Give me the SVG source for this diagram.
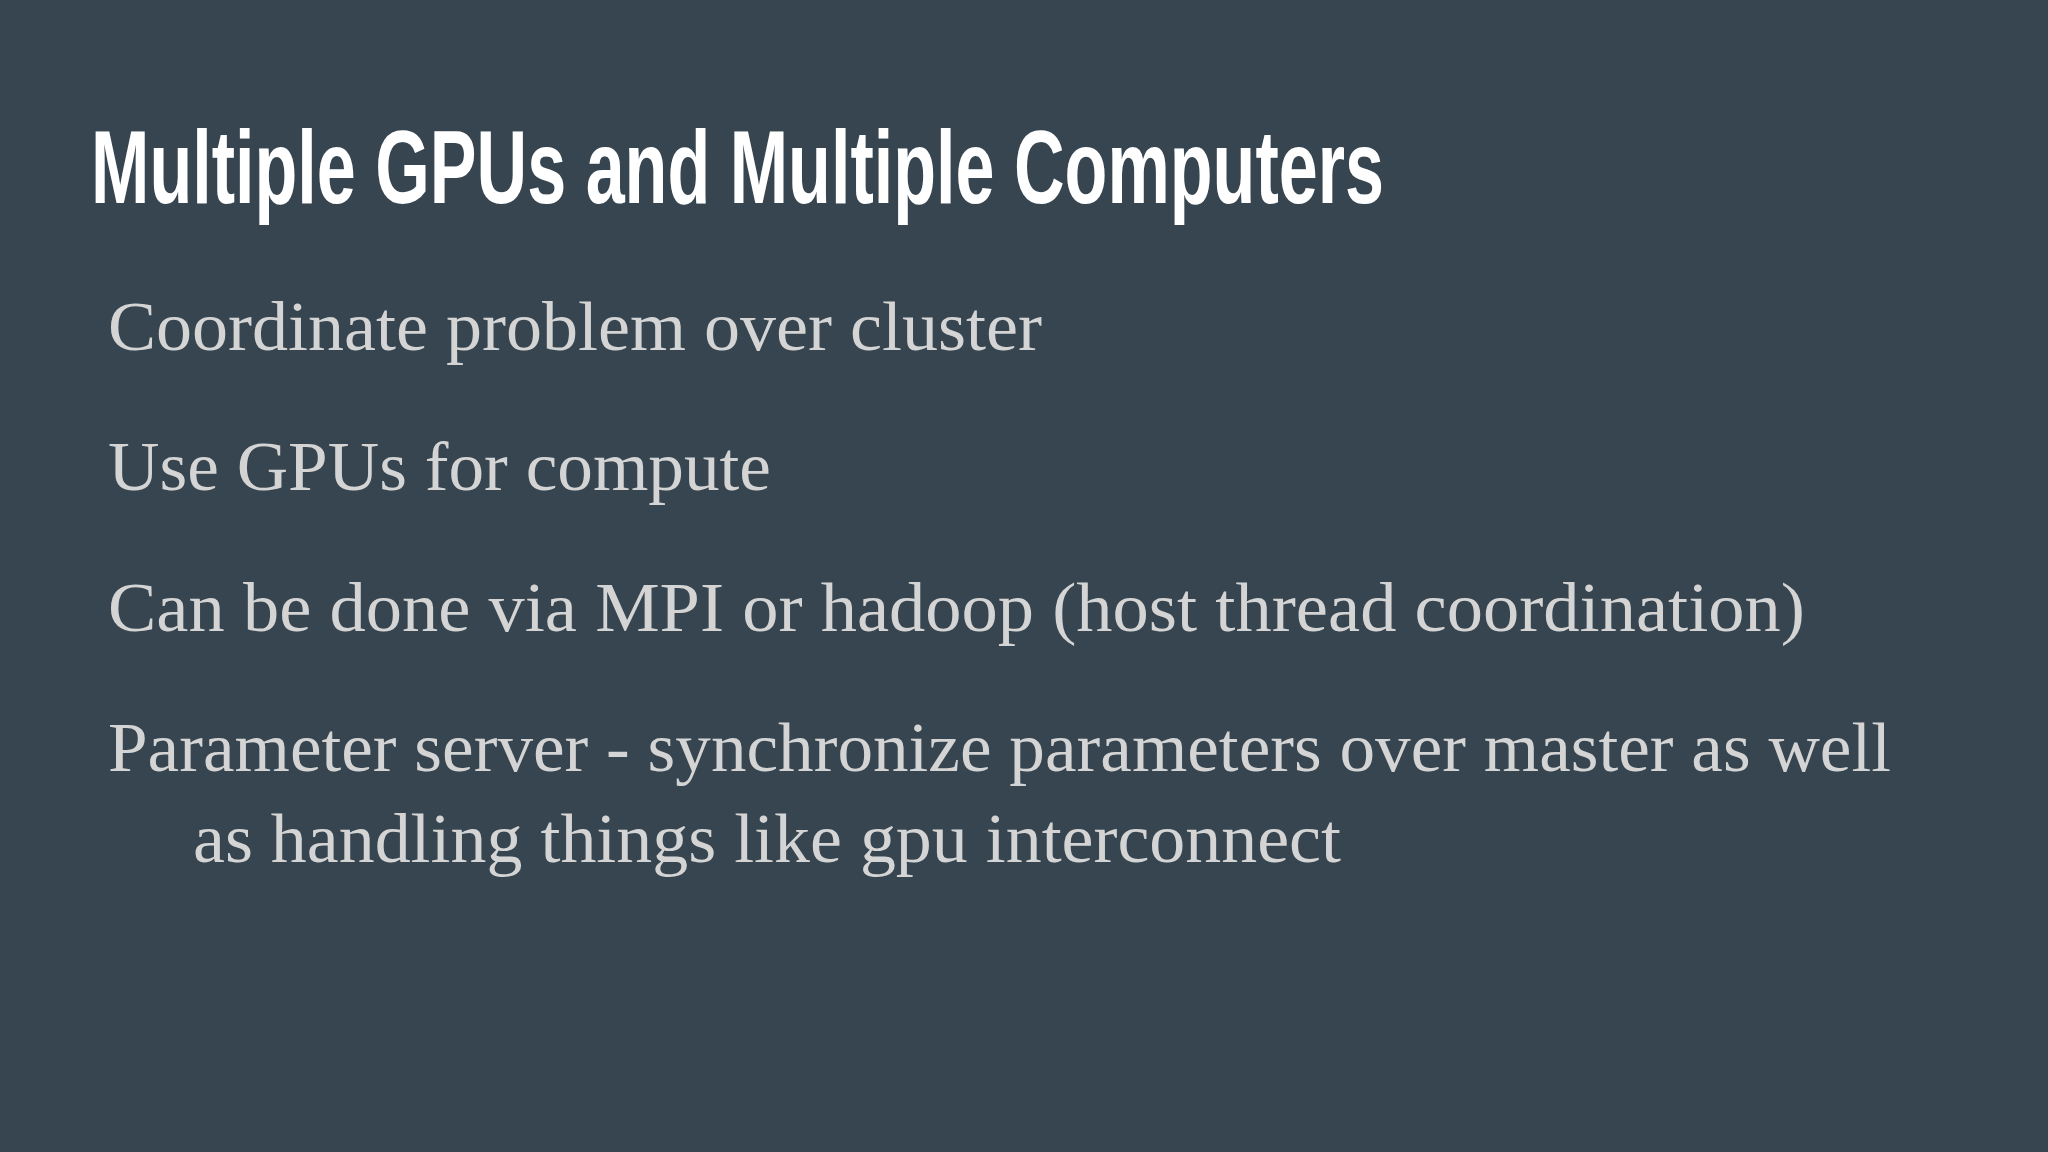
<svg xmlns="http://www.w3.org/2000/svg" width="2048" height="1152" viewBox="0 0 2048 1152">
<style>
.t{font-family:"Liberation Sans",Arial,sans-serif;font-size:104px;fill:#ffffff;font-weight:bold}
.b{font-family:"Liberation Serif","Times New Roman",serif;font-size:70px;fill:#d4d4d4}
</style>
<rect width="2048" height="1152" fill="#36454f"/>
<g id="title"><text class="t" x="91" y="203" textLength="1293" lengthAdjust="spacingAndGlyphs">Multiple GPUs and Multiple Computers</text></g>
<g id="bullets">
<text class="b" x="108" y="350" textLength="934" lengthAdjust="spacingAndGlyphs">Coordinate problem over cluster</text>
<text class="b" x="108" y="490" textLength="663" lengthAdjust="spacingAndGlyphs">Use GPUs for compute</text>
<text class="b" x="108" y="631" textLength="1697" lengthAdjust="spacingAndGlyphs">Can be done via MPI or hadoop (host thread coordination)</text>
<text class="b" x="108" y="771" textLength="1783" lengthAdjust="spacingAndGlyphs">Parameter server - synchronize parameters over master as well</text>
<text class="b" x="193" y="862" textLength="1148" lengthAdjust="spacingAndGlyphs">as handling things like gpu interconnect</text>
</g>
</svg>
